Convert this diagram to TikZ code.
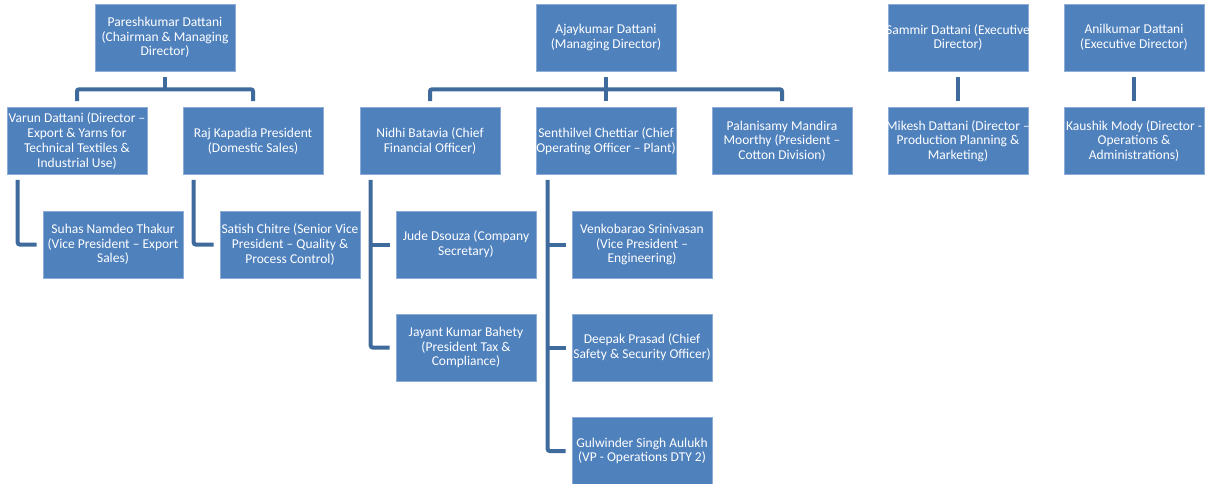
\documentclass[tikz,border=0pt]{standalone}
\usepackage{fontspec}
\setmainfont{Carlito}
\definecolor{boxblue}{HTML}{4F81BD}
\definecolor{boxedge}{HTML}{8EADD6}
\definecolor{linkblue}{HTML}{3E6A9C}
\begin{document}
\begin{tikzpicture}[x=1pt,y=-1pt,
  box/.style={rectangle, fill=boxblue, draw=boxedge, line width=0.6pt,
    minimum width=140pt, minimum height=67pt, inner xsep=-6pt, inner ysep=1pt,
    align=center, text=white, font=\fontsize{13.5pt}{14.7pt}\selectfont},
  conn/.style={draw=linkblue, line width=4pt, rounded corners=2pt}]
\useasboundingbox (0,0) rectangle (1212,484);
\node[box] (p) at (165,37.5) {Pareshkumar Dattani\\ (Chairman \& Managing\\ Director)};
\node[box] (v) at (77,141) {Varun Dattani (Director –\\ Export \& Yarns for\\ Technical Textiles \&\\ Industrial Use)};
\node[box] (r) at (253,141) {Raj Kapadia President\\ (Domestic Sales)};
\node[box] (su) at (113,244.5) {Suhas Namdeo Thakur\\ (Vice President – Export\\ Sales)};
\node[box] (sa) at (290,244.5) {Satish Chitre (Senior Vice\\ President – Quality \&\\ Process Control)};
\node[box] (a) at (606,37.5) {Ajaykumar Dattani\\ (Managing Director)};
\node[box] (n) at (430,141) {Nidhi Batavia (Chief\\ Financial Officer)};
\node[box] (se) at (606,141) {Senthilvel Chettiar (Chief\\ Operating Officer – Plant)};
\node[box] (pa) at (782,141) {Palanisamy Mandira\\ Moorthy (President –\\ Cotton Division)};
\node[box] (ju) at (466,244.5) {Jude Dsouza (Company\\ Secretary)};
\node[box] (ja) at (466,347.5) {Jayant Kumar Bahety\\ (President Tax \&\\ Compliance)};
\node[box] (ve) at (642,244.5) {Venkobarao Srinivasan\\ (Vice President –\\ Engineering)};
\node[box] (de) at (642,347.5) {Deepak Prasad (Chief\\ Safety \& Security Officer)};
\node[box] (gu) at (642,451) {Gulwinder Singh Aulukh\\ (VP - Operations DTY 2)};
\node[box] (sm) at (958,37.5) {Sammir Dattani (Executive\\ Director)};
\node[box] (an) at (1134,37.5) {Anilkumar Dattani\\ (Executive Director)};
\node[box] (mi) at (958,141) {Mikesh Dattani (Director –\\ Production Planning \&\\ Marketing)};
\node[box] (ka) at (1134,141) {Kaushik Mody (Director -\\ Operations \&\\ Administrations)};
% Pareshkumar tree
\coordinate (pj) at ([yshift=-18pt]p.south);
\draw[conn] ([yshift=-6pt]p.south) -- (pj);
\draw[conn] ([yshift=6pt]v.north) |- (pj) -| ([yshift=6pt]r.north);
% Ajaykumar tree
\coordinate (aj) at ([yshift=-18pt]a.south);
\draw[conn] ([yshift=-6pt]a.south) -- ([yshift=6pt]se.north);
\draw[conn] ([yshift=6pt]n.north) |- (aj) -| ([yshift=6pt]pa.north);
% side branches
\draw[conn] ([xshift=11pt,yshift=-5pt]v.south west) |- ([xshift=-6pt]su.west);
\draw[conn] ([xshift=11pt,yshift=-5pt]r.south west) |- ([xshift=-6pt]sa.west);
\coordinate (nt) at ([xshift=11pt,yshift=-5pt]n.south west);
\draw[conn] (nt) |- ([xshift=-6pt]ja.west);
\draw[conn] (nt |- ju.west) -- ([xshift=-6pt]ju.west);
\coordinate (st) at ([xshift=12pt,yshift=-5pt]se.south west);
\draw[conn] (st) |- ([xshift=-6pt]gu.west);
\draw[conn] (st |- ve.west) -- ([xshift=-6pt]ve.west);
\draw[conn] (st |- de.west) -- ([xshift=-6pt]de.west);
% executive directors
\draw[conn] ([yshift=-6pt]sm.south) -- ([yshift=6pt]mi.north);
\draw[conn] ([yshift=-6pt]an.south) -- ([yshift=6pt]ka.north);
\end{tikzpicture}
\end{document}
